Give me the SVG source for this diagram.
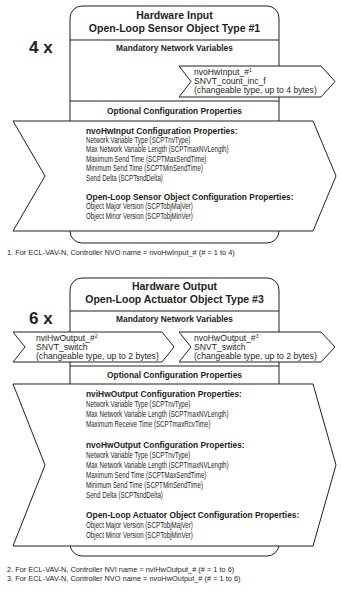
<svg xmlns="http://www.w3.org/2000/svg" width="341" height="600" viewBox="0 0 341 600">
<style>
.box{fill:#fff;stroke:#231f20;stroke-width:1}
.ln{stroke:#231f20;stroke-width:1;fill:none}
.ttl{font-family:"Liberation Sans",Arial,sans-serif;font-weight:bold;font-size:10.5px;fill:#231f20;text-anchor:middle}
.sec{font-family:"Liberation Sans",Arial,sans-serif;font-weight:bold;font-size:8.4px;fill:#231f20;text-anchor:middle}
.cnt{font-family:"Liberation Sans",Arial,sans-serif;font-weight:bold;font-size:17px;fill:#231f20}
.nv{font-family:"Liberation Sans",Arial,sans-serif;font-size:8.6px;fill:#231f20}
.hd{font-family:"Liberation Sans",Arial,sans-serif;font-weight:bold;font-size:8.4px;fill:#231f20}
.cp{font-family:"Liberation Sans",Arial,sans-serif;font-size:8.4px;fill:#231f20}
.fn{font-family:"Liberation Sans",Arial,sans-serif;font-size:7.4px;fill:#231f20}
.sup{font-size:5px}
</style>
<rect width="341" height="600" fill="#fff"/>

<g id="hw-input">
  <rect class="box" x="70" y="6" width="209" height="237" rx="12" ry="12"/>
  <text class="ttl" x="174.5" y="18.5">Hardware Input</text>
  <text class="ttl" x="174.5" y="31.5">Open-Loop Sensor Object Type #1</text>
  <line class="ln" x1="70" y1="40" x2="279" y2="40"/>
  <text class="sec" x="174.5" y="51">Mandatory Network Variables</text>
  <text class="cnt" x="29" y="53">4 x</text>
  <line class="ln" x1="70" y1="101" x2="279" y2="101"/>
  <text class="sec" x="174.5" y="114">Optional Configuration Properties</text>
</g>

<g id="nvoHwInput">
  <polygon class="box" points="179,66 321,66 335,81.5 321,97 179,97 191,81.5"/>
  <text class="nv" x="194" y="74.5">nvoHwInput_#<tspan class="sup" dy="-3">1</tspan></text>
  <text class="nv" x="194" y="83.5">SNVT_count_inc_f</text>
  <text class="nv" x="194" y="92.5">(changeable type, up to 4 bytes)</text>
</g>

<g id="cp-input">
  <polygon class="box" points="13,121 313,121 336,176 313,231 13,231 45,176"/>
  <text class="hd" x="86" y="133.5">nvoHwInput Configuration Properties:</text>
  <g transform="translate(86 0) scale(0.74 1)">
    <text class="cp" x="0" y="143">Network Variable Type (SCPTnvType)</text>
    <text class="cp" x="0" y="152.5">Max Network Variable Length (SCPTmaxNVLength)</text>
    <text class="cp" x="0" y="162">Maximum Send Time (SCPTMaxSendTime)</text>
    <text class="cp" x="0" y="171.5">Minimum Send Time (SCPTMinSendTime)</text>
    <text class="cp" x="0" y="181">Send Delta (SCPTsndDelta)</text>
    <text class="cp" x="0" y="209.5">Object Major Version (SCPTobjMajVer)</text>
    <text class="cp" x="0" y="219">Object Minor Version (SCPTobjMinVer)</text>
  </g>
  <text class="hd" x="86" y="200">Open-Loop Sensor Object Configuration Properties:</text>
</g>

<text class="fn" x="7" y="255">1. For ECL-VAV-N, Controller NVO name = nvoHwInput_# (# = 1 to 4)</text>

<g id="hw-output">
  <rect class="box" x="70" y="278" width="209" height="278" rx="12" ry="12"/>
  <text class="ttl" x="174.5" y="290">Hardware Output</text>
  <text class="ttl" x="174.5" y="303">Open-Loop Actuator Object Type #3</text>
  <line class="ln" x1="70" y1="311" x2="279" y2="311"/>
  <text class="sec" x="174.5" y="322">Mandatory Network Variables</text>
  <text class="cnt" x="29" y="324">6 x</text>
  <line class="ln" x1="70" y1="366" x2="279" y2="366"/>
  <text class="sec" x="174.5" y="378">Optional Configuration Properties</text>
</g>

<g id="nviHwOutput">
  <polygon class="box" points="13,332 162,332 174,347 162,362 13,362 25,347"/>
  <text class="nv" x="36" y="341">nviHwOutput_#<tspan class="sup" dy="-3">2</tspan></text>
  <text class="nv" x="36" y="350">SNVT_switch</text>
  <text class="nv" x="36" y="359">(changeable type, up to 2 bytes)</text>
</g>

<g id="nvoHwOutput">
  <polygon class="box" points="179,332 321,332 335,347 321,362 179,362 191,347"/>
  <text class="nv" x="194" y="341">nvoHwOutput_#<tspan class="sup" dy="-3">3</tspan></text>
  <text class="nv" x="194" y="350">SNVT_switch</text>
  <text class="nv" x="194" y="359">(changeable type, up to 2 bytes)</text>
</g>

<g id="cp-output">
  <polygon class="box" points="13,384 313,384 336,465 313,546 13,546 45,465"/>
  <text class="hd" x="86" y="397">nviHwOutput Configuration Properties:</text>
  <text class="hd" x="86" y="447.5">nvoHwOutput Configuration Properties:</text>
  <text class="hd" x="86" y="518">Open-Loop Actuator Object Configuration Properties:</text>
  <g transform="translate(86 0) scale(0.74 1)">
    <text class="cp" x="0" y="407">Network Variable Type (SCPTnvType)</text>
    <text class="cp" x="0" y="417">Max Network Variable Length (SCPTmaxNVLength)</text>
    <text class="cp" x="0" y="427">Maximum Receive Time (SCPTmaxRcvTime)</text>
    <text class="cp" x="0" y="458">Network Variable Type (SCPTnvType)</text>
    <text class="cp" x="0" y="468">Max Network Variable Length (SCPTmaxNVLength)</text>
    <text class="cp" x="0" y="478">Maximum Send Time (SCPTMaxSendTime)</text>
    <text class="cp" x="0" y="488">Minimum Send Time (SCPTMinSendTime)</text>
    <text class="cp" x="0" y="498">Send Delta (SCPTsndDelta)</text>
    <text class="cp" x="0" y="528">Object Major Version (SCPTobjMajVer)</text>
    <text class="cp" x="0" y="538">Object Minor Version (SCPTobjMinVer)</text>
  </g>
</g>

<text class="fn" x="7" y="572">2. For ECL-VAV-N, Controller NVI name = nviHwOutput_# (# = 1 to 6)</text>
<text class="fn" x="7" y="581">3. For ECL-VAV-N, Controller NVO name = nvoHwOutput_# (# = 1 to 6)</text>
</svg>
